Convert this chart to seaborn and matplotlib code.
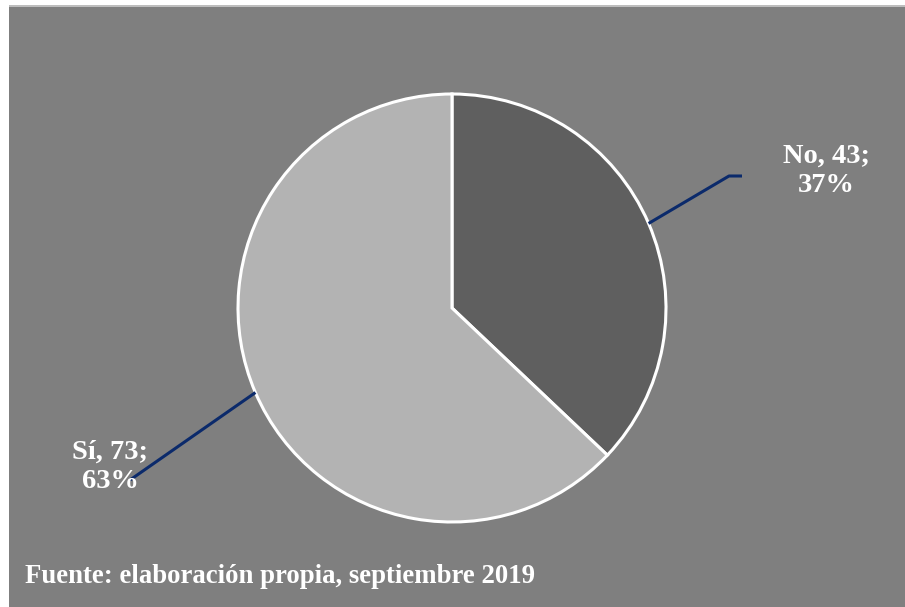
import numpy as np
import matplotlib
matplotlib.use("Agg")
import matplotlib.pyplot as plt
import seaborn as sns
from matplotlib.patches import Rectangle

categories = ["No", "Sí"]
counts = [43, 73]
percents = ["37%", "63%"]
source_note = "Fuente: elaboración propia, septiembre 2019"

sns.set_style("white")
plt.rcParams["font.family"] = ["Liberation Serif", "DejaVu Serif"]

W, H = 905, 607
fig = plt.figure(figsize=(W / 100, H / 100), dpi=100)
fig.patch.set_facecolor("white")
ax = fig.add_axes([0, 0, 1, 1])
ax.set_xlim(0, W)
ax.set_ylim(0, H)
ax.set_aspect("equal")
ax.axis("off")

# background panel
ax.add_patch(Rectangle((9, 0), W - 9, H - 7, facecolor="#7f7f7f", edgecolor="none", zorder=0))
ax.add_patch(Rectangle((9, H - 7), W - 9, 2, facecolor="#bdbdbd", edgecolor="none", zorder=0))

colors = ["#5f5f5f", "#b3b3b3"]
cx, cy, R = 452, H - 308, 214
wedges, _ = ax.pie(counts, colors=colors, startangle=90, counterclock=False,
                   center=(cx, cy), radius=R, frame=True,
                   wedgeprops=dict(edgecolor="white", linewidth=2.2))
ax.set_xlim(0, W)
ax.set_ylim(0, H)
ax.axis("off")

navy = "#0b2a6b"
label_pos = [(826, H - 171), (110, H - 467)]
leader_end = [[(729, H - 176), (742, H - 176)], [(130, H - 480)]]
for w, cat, n, p, (tx, ty), ends in zip(wedges, categories, counts, percents, label_pos, leader_end):
    mid = np.deg2rad((w.theta1 + w.theta2) / 2)
    sx, sy = cx + R * np.cos(mid), cy + R * np.sin(mid)
    xs = [sx] + [e[0] for e in ends]
    ys = [sy] + [e[1] for e in ends]
    ax.plot(xs, ys, color=navy, lw=2.2, solid_capstyle="butt", zorder=3)
    ax.text(tx, ty, f"{cat}, {n};\n{p}", ha="center", va="center", color="white",
            fontsize=20.5, fontweight="bold", linespacing=1.22, zorder=4)

ax.text(25, H - 583, source_note, ha="left", va="baseline", color="white",
        fontsize=19.3, fontweight="bold")

fig.savefig("out.png", dpi=100, facecolor=fig.get_facecolor())
